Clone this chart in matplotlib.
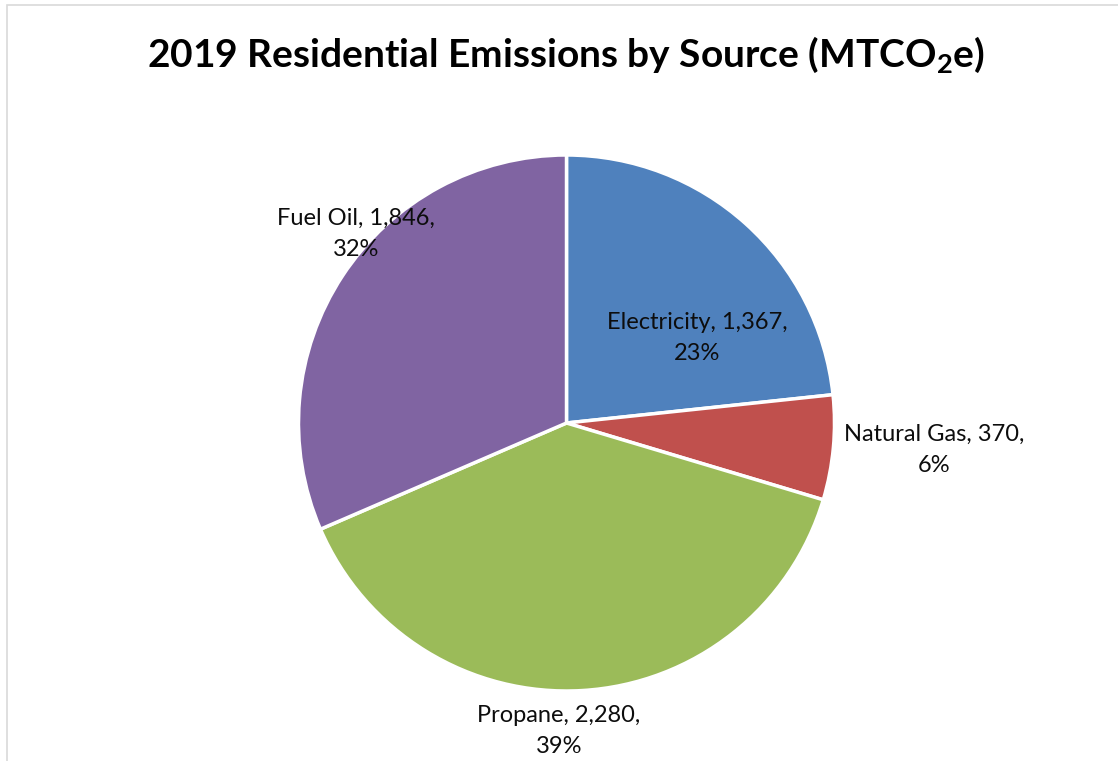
import matplotlib.pyplot as plt
from matplotlib.patches import Rectangle

# data
sources = ['Electricity', 'Natural Gas', 'Propane', 'Fuel Oil']
emissions = [1367, 370, 2280, 1846]
percents = [23, 6, 39, 32]   # as printed on the chart
colors = ['#4F81BD', '#C0504D', '#9BBB59', '#8064A2']

# label placement, in units of the pie radius from the centre
label_offsets = [(0.487, 0.317), (1.373, -0.10), (-0.028, -1.149), (-0.784, 0.705)]

plt.rcParams['font.family'] = ['Lato', 'DejaVu Sans']
plt.rcParams['mathtext.fontset'] = 'custom'
plt.rcParams['mathtext.rm'] = 'Lato:bold'
plt.rcParams['mathtext.bf'] = 'Lato:bold'

W, H = 1118, 761
fig = plt.figure(figsize=(W / 100, H / 100), dpi=100)
ax = fig.add_axes([0, 0, 1, 1])

# chart frame (runs off the right and bottom edges)
ax.add_patch(Rectangle((7, -20), W + 20, H - 5 + 20, fill=False,
                       edgecolor='#D9D9D9', linewidth=1.2))

cx, cy, r = 566.5, H - 423, 268
ax.pie(emissions, colors=colors, startangle=90, counterclock=False,
       center=(cx, cy), radius=r, frame=True,
       wedgeprops=dict(edgecolor='white', linewidth=2.5))
ax.set_xlim(0, W)
ax.set_ylim(0, H)
ax.set_aspect('equal')
ax.axis('off')

for name, val, pct, (dx, dy) in zip(sources, emissions, percents, label_offsets):
    ax.text(cx + dx * r, cy + dy * r, f'{name}, {val:,},\n{pct}%',
            ha='center', va='center', fontsize=17, color='#0d0d0d',
            linespacing=1.6)

ax.text(566, H - 55, r'2019 Residential Emissions by Source (MTCO$_\mathbf{2}$e)',
        ha='center', va='center', fontsize=28, fontweight='bold', color='black')

fig.savefig('out.png', dpi=100)
